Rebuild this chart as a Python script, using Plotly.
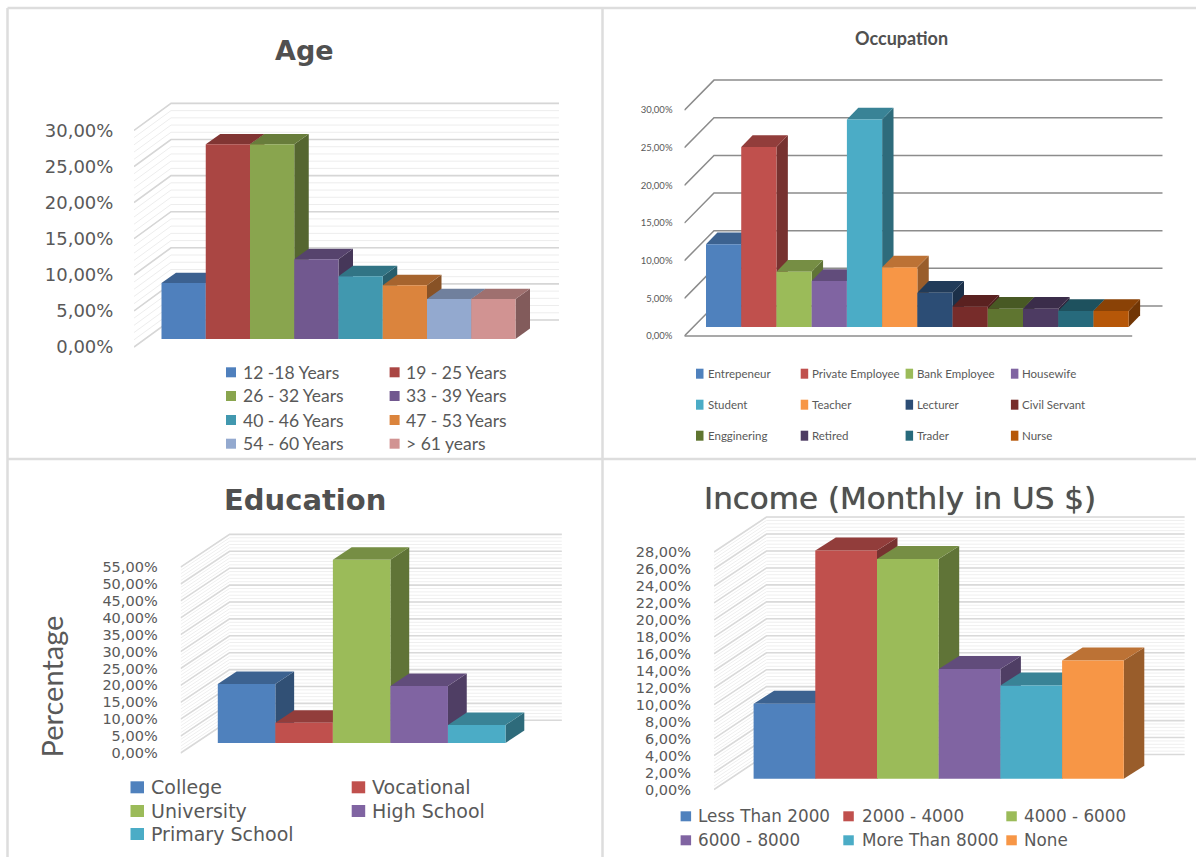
import plotly.graph_objects as go

WIDTH, HEIGHT = 1196, 857

# ---- data ----
AGE_CATEGORIES = ["12 -18 Years", "19 - 25 Years", "26 - 32 Years", "33 - 39 Years",
                  "40 - 46 Years", "47 - 53 Years", "54 - 60 Years", "> 61 years"]
AGE_VALUES = [7.74, 26.96, 26.96, 11.06, 8.7, 7.46, 5.53, 5.53]
AGE_TICKS = [0, 5, 10, 15, 20, 25, 30]

OCCUPATION_CATEGORIES = ["Entrepeneur", "Private Employee", "Bank Employee", "Housewife",
                         "Student", "Teacher", "Lecturer", "Civil Servant",
                         "Engginering", "Retired", "Trader", "Nurse"]
OCCUPATION_VALUES = [10.98, 23.9, 7.35, 6.1, 27.57, 7.92, 4.56, 2.7, 2.43, 2.43, 2.12, 2.12]
OCCUPATION_TICKS = [0, 5, 10, 15, 20, 25, 30]

EDUCATION_CATEGORIES = ["College", "Vocational", "University", "High School", "Primary School"]
EDUCATION_VALUES = [17.45, 6.0, 54.2, 16.86, 5.3]
EDUCATION_TICKS = [0, 5, 10, 15, 20, 25, 30, 35, 40, 45, 50, 55]

INCOME_CATEGORIES = ["Less Than 2000", "2000 - 4000", "4000 - 6000",
                     "6000 - 8000", "More Than 8000", "None"]
INCOME_VALUES = [8.84, 26.9, 25.9, 12.93, 11.0, 13.95]
INCOME_TICKS = [0, 2, 4, 6, 8, 10, 12, 14, 16, 18, 20, 22, 24, 26, 28]

# ---- colours ----
AGE_COLORS = ["#4F80BD", "#AA4643", "#89A54E", "#71588F", "#4198AF", "#DB843D", "#93A9CF", "#D19392"]
OCCUPATION_COLORS = ["#4F81BD", "#C0504D", "#9BBB59", "#8064A2", "#4BACC6", "#F79646",
                     "#2C4D75", "#772C2A", "#5F7530", "#4D3B62", "#276A7C", "#B65708"]
OFFICE_COLORS = ["#4F81BD", "#C0504D", "#9BBB59", "#8064A2", "#4BACC6", "#F79646"]
TEXT_COLOR = "#595959"


def shade(color, factor):
    r, g, b = (int(color[i:i + 2], 16) for i in (1, 3, 5))
    return f"rgb({r * factor:.0f},{g * factor:.0f},{b * factor:.0f})"


def tick_label(v):
    return f"{v:.2f}".replace(".", ",") + "%"


# ---- panel layout, in page pixels ----
PANELS = [
    dict(title="Age", title_xy=(304, 50), title_font=dict(family="DejaVu Sans", size=27, weight="bold"),
         cats=AGE_CATEGORIES, vals=AGE_VALUES, ticks=AGE_TICKS, colors=AGE_COLORS,
         bar_left=161.5, bar_right=515.5, base=339, ppu=7.22, depth=(14.5, 10.4),
         wall_x=134, wall_y=347, wall_depth=(37, 27), wall_right=559,
         major=5, minor=1, grid=("#D6D6D6", "#EDEDED"), major_width=1.6, floor=False,
         tick_font=dict(family="DejaVu Sans", size=18), tick_gap=16,
         key=(10, 10), key_xs=[226, 389.6], text_xs=[241.5, 405],
         rows=[372.3, 396, 420, 443.7], ncol=2,
         legend_font=dict(family="Lato", size=17.5)),
    dict(title="Occupation", title_xy=(901, 38),
         title_font=dict(family="Lato", size=18, weight="bold"),
         cats=OCCUPATION_CATEGORIES, vals=OCCUPATION_VALUES, ticks=OCCUPATION_TICKS,
         colors=OCCUPATION_COLORS,
         bar_left=706, bar_right=1128.7, base=327, ppu=7.53, depth=(11.4, 11.7),
         wall_x=684.4, wall_y=336, wall_depth=(29.6, 30), wall_right=1162.5,
         major=5, minor=None, grid=("#8C8C8C", None), major_width=1.5, floor=True,
         tick_font=dict(family="Lato", size=9.5), tick_gap=9,
         key=(7.5, 10), key_xs=[696, 800.7, 905.6, 1010.9], text_xs=[706.8, 811, 916, 1020.8],
         rows=[373.7, 404.7, 435.7], ncol=4,
         legend_font=dict(family="Lato", size=11.5)),
    dict(title="Education", title_xy=(304.6, 500),
         title_font=dict(family="DejaVu Sans", size=29, weight="bold"),
         cats=EDUCATION_CATEGORIES, vals=EDUCATION_VALUES, ticks=EDUCATION_TICKS,
         colors=OFFICE_COLORS,
         bar_left=217.8, bar_right=505.5, base=743, ppu=3.38, depth=(18.8, 12.5),
         wall_x=180.6, wall_y=753, wall_depth=(49, 32.7), wall_right=561.8,
         major=5, minor=1, grid=("#D9D9D9", "#EFEFEF"), major_width=1.6, floor=False,
         tick_font=dict(family="DejaVu Sans", size=14.5), tick_gap=19,
         key=(13.5, 12), key_xs=[130.5, 351.7], text_xs=[150, 371],
         rows=[787.3, 811, 834], ncol=2,
         legend_font=dict(family="DejaVu Sans", size=19)),
    dict(title="Income (Monthly in US $)", title_xy=(900, 498),
         title_font=dict(family="DejaVu Sans", size=31, shadow="0 0 0.7px #505050"),
         cats=INCOME_CATEGORIES, vals=INCOME_VALUES, ticks=INCOME_TICKS, colors=OFFICE_COLORS,
         bar_left=753.6, bar_right=1123.8, base=778.7, ppu=8.48, depth=(20.5, 13),
         wall_x=714, wall_y=789.5, wall_depth=(52.5, 35), wall_right=1184.6,
         major=2, minor=0.4, grid=("#D9D9D9", "#EFEFEF"), major_width=1.6, floor=False,
         tick_font=dict(family="DejaVu Sans", size=14.5), tick_gap=19,
         key=(10.5, 10), key_xs=[680.6, 843.3, 1006.3], text_xs=[696.5, 860.7, 1023],
         rows=[816.3, 840.3], ncol=3,
         legend_font=dict(family="DejaVu Sans", size=16.8)),
]

fig = go.Figure()
layout = dict(
    template="none",
    width=WIDTH, height=HEIGHT, margin=dict(l=0, r=0, t=0, b=0, pad=0),
    paper_bgcolor="white", plot_bgcolor="white", showlegend=False,
    barmode="overlay", shapes=[], annotations=[],
)


def page_x(px):
    return px / WIDTH


def page_y(py):
    return 1 - py / HEIGHT


def add_wall(p, xa, ya, to_x, to_y):
    """Left wall and back wall gridlines, running through the oblique projection."""
    ddx, ddy = p["wall_depth"]
    top = max(p["ticks"])

    def segment_set(levels):
        xs, ys = [], []
        for v in levels:
            front_x, front_y = p["wall_x"], p["wall_y"] - v * p["ppu"]
            xs += [to_x(front_x), to_x(front_x + ddx), to_x(p["wall_right"]), None]
            ys += [to_y(front_y), to_y(front_y - ddy), to_y(front_y - ddy), None]
        return xs, ys

    if p["minor"]:
        steps = round(top / p["minor"])
        levels = [i * p["minor"] for i in range(steps + 1)]
        xs, ys = segment_set(levels)
        fig.add_trace(go.Scatter(x=xs, y=ys, xaxis=xa, yaxis=ya, mode="lines",
                                 line=dict(color=p["grid"][1], width=1), hoverinfo="skip"))
    xs, ys = segment_set(p["ticks"])
    fig.add_trace(go.Scatter(x=xs, y=ys, xaxis=xa, yaxis=ya, mode="lines",
                             line=dict(color=p["grid"][0], width=p["major_width"]), hoverinfo="skip"))
    if p["floor"]:
        fig.add_trace(go.Scatter(x=[to_x(p["wall_x"]), to_x(p["bar_right"] + 3.5)],
                                 y=[0, 0], xaxis=xa, yaxis=ya, mode="lines",
                                 line=dict(color=p["grid"][0], width=p["major_width"]),
                                 hoverinfo="skip"))


for n, p in enumerate(PANELS, start=1):
    count = len(p["vals"])
    bw = (p["bar_right"] - p["bar_left"]) / count
    ppu = p["ppu"]
    top = max(p["ticks"])

    left = p["wall_x"]
    right = p["wall_right"] + 3
    bottom = p["wall_y"] + 4
    upper = p["wall_y"] - top * ppu - p["wall_depth"][1] - 4

    def to_x(px, bl=p["bar_left"], bw=bw):
        return (px - bl) / bw - 0.5

    def to_y(py, y0=p["wall_y"], ppu=ppu):
        return (y0 - py) / ppu

    x_range = [to_x(left), to_x(right)]
    domain_x = [page_x(left), page_x(right)]
    domain_y = [page_y(bottom), page_y(upper)]
    lift = (p["wall_y"] - p["base"]) / ppu   # bar plane sits this far above the wall's front edge
    ddx_u, ddy_u = p["depth"][0] / bw, p["depth"][1] / ppu

    back_id, front_id = n, n + 4
    sx = lambda i: "" if i == 1 else str(i)
    layout[f"xaxis{sx(back_id)}"] = dict(domain=domain_x, range=x_range, visible=False,
                                         anchor=f"y{sx(back_id)}", fixedrange=True,
                                         automargin=False)
    layout[f"yaxis{sx(back_id)}"] = dict(
        domain=domain_y, range=[to_y(bottom), to_y(upper)], anchor=f"x{sx(back_id)}",
        tickmode="array", tickvals=p["ticks"], ticktext=[tick_label(v) for v in p["ticks"]],
        showgrid=False, zeroline=False, showline=False, fixedrange=True, automargin=False,
        ticks="outside", ticklen=p["tick_gap"], tickcolor="rgba(0,0,0,0)", tickwidth=1,
        tickfont=dict(color=TEXT_COLOR, **p["tick_font"]))
    layout[f"xaxis{front_id}"] = dict(domain=domain_x, range=x_range, visible=False,
                                      anchor=f"y{front_id}", overlaying=f"x{sx(back_id)}",
                                      fixedrange=True, automargin=False)
    layout[f"yaxis{front_id}"] = dict(domain=domain_y,
                                      range=[to_y(bottom) - lift, to_y(upper) - lift],
                                      visible=False, anchor=f"x{front_id}",
                                      overlaying=f"y{sx(back_id)}", fixedrange=True,
                                      automargin=False)

    xa, ya = f"x{sx(back_id)}", f"y{sx(back_id)}"
    add_wall(p, xa, ya, to_x, to_y)

    # side and top faces, painted left to right so nearer faces cover farther ones
    for i, (v, c) in enumerate(zip(p["vals"], p["colors"])):
        l, r = i - 0.5, i + 0.5
        t, b = v + lift, lift
        fig.add_trace(go.Scatter(
            x=[r, r + ddx_u, r + ddx_u, r, r], y=[b, b + ddy_u, t + ddy_u, t, b],
            xaxis=xa, yaxis=ya, mode="lines", fill="toself", fillcolor=shade(c, 0.62),
            line=dict(width=0), hoverinfo="skip"))
        fig.add_trace(go.Scatter(
            x=[l, r, r + ddx_u, l + ddx_u, l], y=[t, t, t + ddy_u, t + ddy_u, t],
            xaxis=xa, yaxis=ya, mode="lines", fill="toself", fillcolor=shade(c, 0.76),
            line=dict(width=0), hoverinfo="skip"))

    # front faces
    fig.add_trace(go.Bar(x=list(range(count)), y=p["vals"], width=1,
                         customdata=p["cats"], xaxis=f"x{front_id}", yaxis=f"y{front_id}",
                         marker=dict(color=p["colors"], line=dict(width=0)),
                         hovertemplate="%{customdata}: %{y:.2f}%<extra></extra>", name=p["title"]))

    # title
    layout["annotations"].append(dict(
        text=p["title"], x=page_x(p["title_xy"][0]), y=page_y(p["title_xy"][1]),
        xref="paper", yref="paper", xanchor="center", yanchor="middle", showarrow=False,
        font=dict(color="#505050", **p["title_font"])))

    # legend
    kw, kh = p["key"]
    for i, (cat, c) in enumerate(zip(p["cats"], p["colors"])):
        row, col = divmod(i, p["ncol"])
        ky = p["rows"][row]
        kx = p["key_xs"][col]
        layout["shapes"].append(dict(
            type="rect", xref="paper", yref="paper", x0=page_x(kx), x1=page_x(kx + kw),
            y0=page_y(ky - kh / 2), y1=page_y(ky + kh / 2), fillcolor=c, line=dict(width=0)))
        layout["annotations"].append(dict(
            text=cat, x=page_x(p["text_xs"][col]), y=page_y(ky), xref="paper", yref="paper",
            xanchor="left", yanchor="middle", showarrow=False, borderpad=0,
            font=dict(color=TEXT_COLOR, **p["legend_font"])))

# axis title on the education panel
layout["annotations"].append(dict(
    text="Percentage", x=page_x(51.7), y=page_y(686.7), xref="paper", yref="paper",
    xanchor="center", yanchor="middle", textangle=-90, showarrow=False,
    font=dict(family="Lato", size=29, color=TEXT_COLOR)))

# frames around the four panels
for x0, y0, x1, y1 in [(7.5, 8, 7.5, 857), (7.5, 8, 1196, 8), (602.5, 8, 602.5, 857),
                       (7.5, 459, 1196, 459)]:
    layout["shapes"].append(dict(
        type="line", xref="paper", yref="paper", x0=page_x(x0), x1=page_x(x1),
        y0=page_y(y0), y1=page_y(y1), line=dict(color="#DDDDDD", width=2.5)))

fig.update_layout(**layout)
fig.write_html("out.html", config=dict(displayModeBar=False))
